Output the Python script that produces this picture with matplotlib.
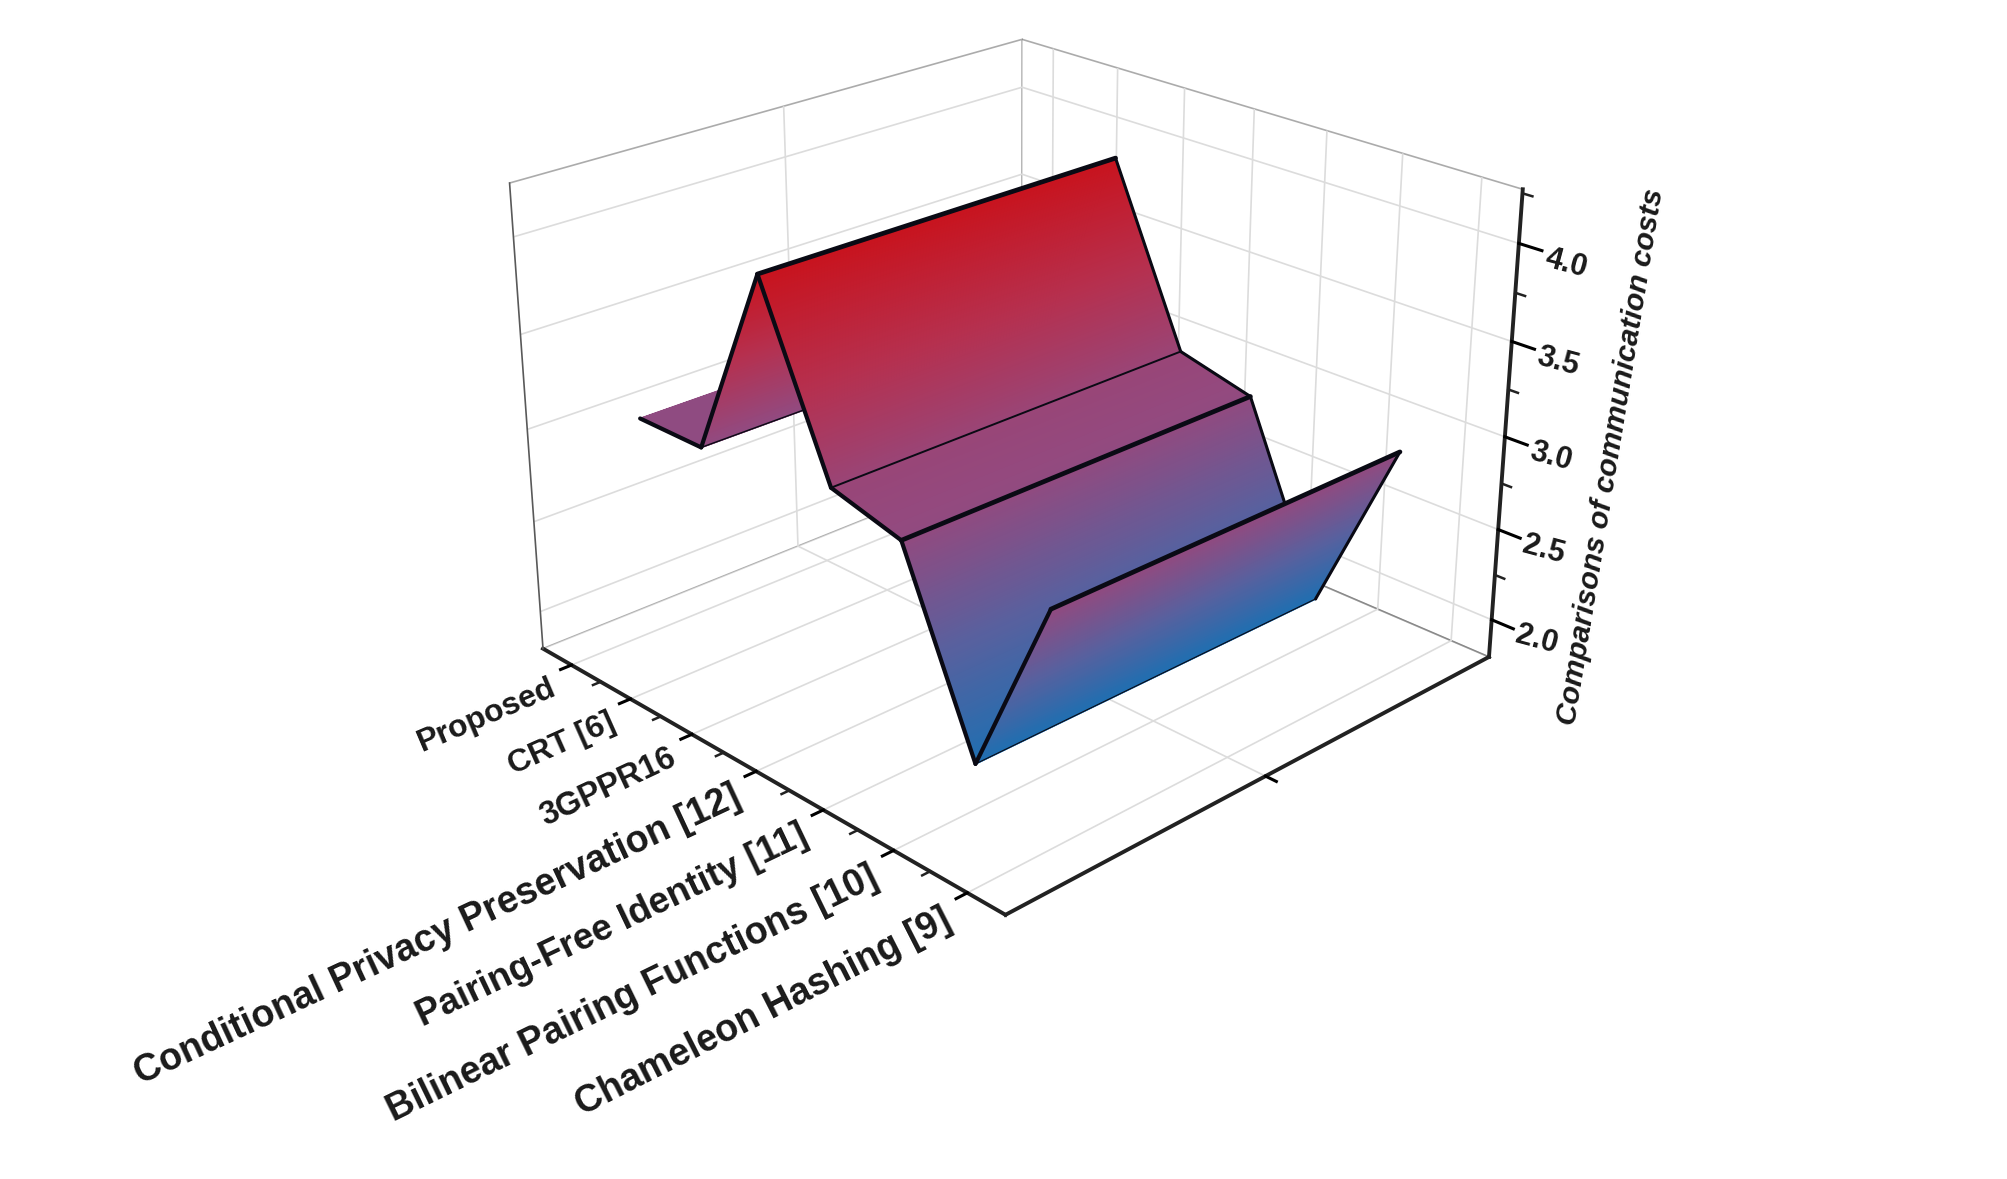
import numpy as np, matplotlib
matplotlib.use('Agg')
import matplotlib.pyplot as plt
from matplotlib.colors import LinearSegmentedColormap, Normalize

categories = ['Proposed', 'CRT [6]', '3GPPR16', 'Conditional Privacy Preservation [12]',
              'Pairing-Free Identity [11]', 'Bilinear Pairing Functions [10]', 'Chameleon Hashing [9]']
costs = [2.98, 2.98, 4.01, 3.09, 2.99, 2.03, 3.0]
y_span = [0.15, 0.85]
z_ticks = [2.0, 2.5, 3.0, 3.5, 4.0]
z_minor = [2.25, 2.75, 3.25, 3.75, 4.25]
x_pos = [1, 2, 3, 4, 5, 6, 7]
x_minor = [1.5, 2.5, 3.5, 4.5, 5.5, 6.5]
label_sizes = [23, 23, 23.5, 27, 26.5, 27, 27]
label_rots = [23, 24, 25, 25, 25.5, 26, 27]
fold_widths = [1.0, 1.0, 3.4, 1.4, 3.4, 0.8, 3.4]

XL, YL, ZL = (.5, 7.5), (0, 1), (1.79, 4.27)

plt.rcParams['font.family'] = ['Liberation Sans', 'DejaVu Sans']
fig = plt.figure(figsize=(20.08, 11.79), dpi=100, facecolor='white')
ax = fig.add_axes([0.23136, 0.17081, 0.53355, 0.90871], projection='3d')
ax.patch.set_visible(False)
ax.computed_zorder = False
ax.view_init(elev=24.01, azim=-43.99)
ax.set_proj_type('persp', focal_length=0.5225)
ax.set_box_aspect((0.9122, 0.9106, 0.672))

cmap = LinearSegmentedColormap.from_list('cost', [(0, '#1F6FB1'), (.25, '#5A609E'), (.5, '#94497E'),
                                                   (.75, '#B6304F'), (1, '#C8141F')])
norm = Normalize(2.03, 4.01)
X = np.array(x_pos, float)
Z = np.array(costs, float)
ink = '#0a0a14'
for i in range(len(X) - 1):
    xs = np.linspace(X[i], X[i + 1], 120)
    zs = np.linspace(Z[i], Z[i + 1], 120)
    XX, YY = np.meshgrid(xs, y_span)
    ZZ = np.vstack([zs, zs])
    ax.plot_surface(XX, YY, ZZ, facecolors=cmap(norm(ZZ)), rstride=1, cstride=1, shade=False,
                    linewidth=1.2, antialiased=True, zorder=10 + 2 * i)
    ax.plot([X[i], X[i + 1]], [y_span[0]] * 2, [Z[i], Z[i + 1]], color=ink, lw=3.0,
            solid_capstyle='round', zorder=10.5 + 2 * i)
    ax.plot([X[i], X[i + 1]], [y_span[1]] * 2, [Z[i], Z[i + 1]], color=ink, lw=2.2,
            solid_capstyle='round', zorder=10.5 + 2 * i)
    ax.plot([X[i + 1]] * 2, y_span, [Z[i + 1]] * 2, color=ink, lw=fold_widths[i + 1],
            solid_capstyle='round', zorder=12.6 + 2 * i)

for a in (ax.xaxis, ax.yaxis, ax.zaxis):
    a.pane.set_facecolor('white')
    a.pane.set_edgecolor('#595959')
    a.pane.set_linewidth(1.2)
    a.line.set_color('#222222')
    a.line.set_linewidth(2.8)
    a._axinfo['grid'].update(color='#dcdcdc', linewidth=1.2, linestyle='-')
    a._axinfo['tick']['outward_factor'] = 0.0
    a._axinfo['tick']['inward_factor'] = 0.25
    a._axinfo['tick']['linewidth'] = {True: 2.2, False: 1.5}
ax.zaxis._axinfo['tick']['inward_factor'] = 0.5

ax.set_xticks(x_pos)
ax.set_xticklabels(categories, fontweight='bold', ha='right', va='center', rotation_mode='anchor', color='#1a1a1a')
for t, s, r in zip(ax.get_xticklabels(), label_sizes, label_rots):
    t.set_fontsize(s)
    t.set_rotation(r)
ax.set_yticks([0.5])
ax.set_yticklabels([''])
ax.set_zticks(z_ticks)
ax.set_zticklabels([f'{v:.1f}' for v in z_ticks], fontweight='bold', fontsize=22, rotation=-15,
                   ha='left', va='top', rotation_mode='anchor', color='#1a1a1a')
ax.zaxis.set_ticks_position('upper')
ax.tick_params(axis='x', pad=5)
ax.tick_params(axis='z', pad=4)

ax.zaxis.set_rotate_label(False)
ax.set_zlabel('Comparisons of communication costs      ', rotation=80.7, fontsize=21.5, fontstyle='italic',
              fontweight='bold', labelpad=24, color='#1a1a1a')
ax.zaxis.set_label_position('upper')

ax.plot([XL[0], XL[0]], [YL[0], YL[0]], ZL, color='#595959', lw=1.2, zorder=1)

for xm in x_minor:
    ax.plot([xm, xm], [0, -0.014], [ZL[0], ZL[0]], color='#222222', lw=1.8, clip_on=False, zorder=3)
for zm in z_minor:
    ax.plot([7.5, 7.62], [1, 1], [zm, zm], color='#222222', lw=1.8, clip_on=False, zorder=3)

ax.set_xlim(*XL, view_margin=0)
ax.set_ylim(*YL, view_margin=0)
ax.set_zlim(*ZL, view_margin=0)
fig.savefig('out.png', dpi=100)
